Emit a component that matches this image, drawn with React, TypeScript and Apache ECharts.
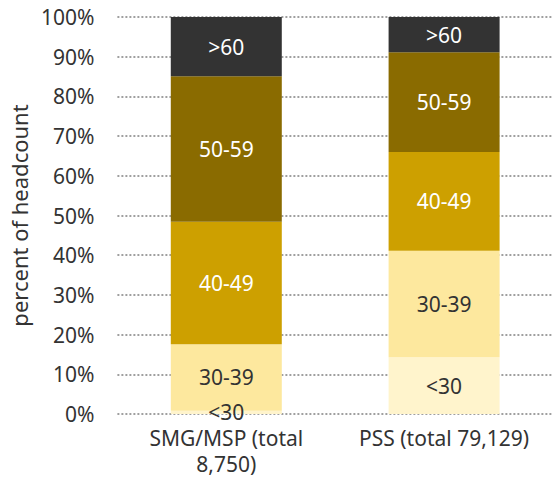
import React, { useEffect, useRef } from "react";
import * as echarts from "echarts";

const categories = ["SMG/MSP (total\n8,750)", "PSS (total 79,129)"];
const ageGroups = ["<30", "30-39", "40-49", "50-59", ">60"];
const under30 = [0.8, 14.3];
const age30to39 = [16.8, 26.8];
const age40to49 = [30.8, 24.9];
const age50to59 = [36.7, 25.1];
const over60 = [14.9, 8.9];
const yTicks = [0, 10, 20, 30, 40, 50, 60, 70, 80, 90, 100];

const colors = ["#FFF4CC", "#FDE89E", "#CDA000", "#8A6B00", "#333333"];
const labelColors = ["#333333", "#333333", "#ffffff", "#ffffff", "#ffffff"];
const FONT = "Noto Sans";
const FS = 21;

export default function App() {
  const ref = useRef<HTMLDivElement>(null);
  useEffect(() => {
    if (!ref.current) return;
    const chart = echarts.init(ref.current, undefined, { renderer: "svg" });
    const seriesData = [under30, age30to39, age40to49, age50to59, over60];
    chart.setOption({
      animation: false,
      textStyle: { fontFamily: FONT },
      grid: { left: 113, right: -6, top: 17, bottom: 67, containLabel: false },
      xAxis: {
        type: "category",
        data: categories,
        axisLine: { show: false },
        axisTick: { show: false },
        axisLabel: {
          color: "#333333",
          fontSize: FS,
          fontFamily: FONT,
          lineHeight: 26,
          margin: 11,
          interval: 0,
        },
      },
      yAxis: {
        type: "value",
        min: 0,
        max: 100,
        interval: 10,
        name: "percent of headcount",
        nameLocation: "middle",
        nameGap: 78,
        nameTextStyle: { color: "#333333", fontSize: 22, fontFamily: FONT },
        axisLine: { show: false },
        axisTick: { show: false },
        axisLabel: {
          color: "#333333",
          fontSize: FS,
          fontFamily: FONT,
          margin: 23,
          formatter: (v: number) => (yTicks.includes(v) ? v + "%" : ""),
        },
        splitLine: {
          show: true,
          lineStyle: { type: [2, 2], color: "#808080", width: 1.5 },
        },
      },
      series: ageGroups.map((name, i) => ({
        name,
        type: "bar",
        stack: "total",
        barWidth: 111,
        data: seriesData[i],
        itemStyle: {
          color: colors[i],
        },
        label: {
          show: true,
          position: "inside",
          formatter: name,
          color: labelColors[i],
          fontSize: FS,
          lineHeight: 18,
          fontFamily: FONT,
        },
      })),
    });
    return () => chart.dispose();
  }, []);
  return <div ref={ref} style={{ width: 553, height: 481, position: "absolute", left: 0, top: 0 }} />;
}
